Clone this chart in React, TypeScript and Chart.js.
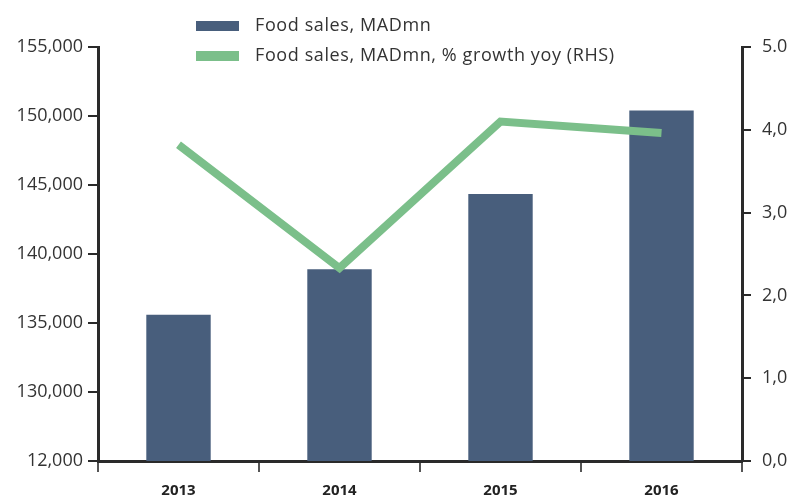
import React, { useEffect, useRef } from "react";
import { Chart, registerables } from "chart.js";

Chart.register(...registerables);

const categories = ["2013", "2014", "2015", "2016"];
const foodSales = [135600, 138900, 144350, 150400];
const growthYoy = [3.82, 2.33, 4.1, 3.96];
const leftTickLabels: Record<number, string> = {
  125000: "12,000",
  130000: "130,000",
  135000: "135,000",
  140000: "140,000",
  145000: "145,000",
  150000: "150,000",
  155000: "155,000",
};
const rightTickLabels: Record<number, string> = {
  0: "0,0",
  1: "1,0",
  2: "2,0",
  3: "3,0",
  4: "4,0",
  5: "5.0",
};
const legendLabels = ["Food sales, MADmn", "Food sales, MADmn, % growth yoy (RHS)"];

const BAR_COLOR = "#485e7c";
const LINE_COLOR = "#7bbf8a";
const FONT = "'Open Sans', sans-serif";
const TEXT = "#333333";

const legendPlugin = {
  id: "customLegend",
  afterDraw(chart: any) {
    const ctx = chart.ctx;
    ctx.save();
    const colors = [BAR_COLOR, LINE_COLOR];
    const ys = [26, 56];
    ctx.font = `18px ${FONT}`;
    try {
      ctx.letterSpacing = "0.6px";
    } catch (e) {}
    ctx.textBaseline = "middle";
    ctx.textAlign = "left";
    legendLabels.forEach((label, i) => {
      ctx.fillStyle = colors[i];
      ctx.fillRect(196, ys[i] - 5, 43, 10);
      ctx.fillStyle = TEXT;
      ctx.fillText(label, 255, ys[i]);
    });
    ctx.restore();
  },
};

export default function App() {
  const ref = useRef<HTMLCanvasElement | null>(null);
  useEffect(() => {
    document.body.style.margin = "0";
    if (!ref.current) return;
    const chart = new Chart(ref.current, {
      type: "bar",
      data: {
        labels: categories,
        datasets: [
          {
            type: "line",
            label: legendLabels[1],
            data: growthYoy,
            borderColor: LINE_COLOR,
            backgroundColor: LINE_COLOR,
            borderWidth: 8,
            pointRadius: 0,
            tension: 0,
            yAxisID: "y1",
            order: 0,
          } as any,
          {
            type: "bar",
            label: legendLabels[0],
            data: foodSales,
            backgroundColor: BAR_COLOR,
            categoryPercentage: 0.4,
            barPercentage: 1,
            yAxisID: "y",
            order: 1,
          },
        ],
      },
      plugins: [legendPlugin],
      options: {
        animation: false,
        responsive: false,
        maintainAspectRatio: false,
        layout: { padding: { top: 47, left: 0, right: 0, bottom: 0 } },
        plugins: { legend: { display: false }, tooltip: { enabled: false } },
        scales: {
          x: {
            grid: {
              display: true,
              drawOnChartArea: false,
              drawTicks: true,
              tickLength: 11,
              color: "#555555",
              lineWidth: 2,
            },
            border: { display: true, color: "#2a2a2a", width: 3 },
            ticks: {
              color: "#222222",
              font: { family: FONT, size: 15, weight: "bold" },
              padding: 10,
            },
            afterFit: (scale: any) => {
              scale.height = 39;
            },
          },
          y: {
            position: "left",
            min: 125000,
            max: 155000,
            grid: {
              display: true,
              drawOnChartArea: false,
              drawTicks: true,
              tickLength: 10,
              color: "#2a2a2a",
              lineWidth: 2,
            },
            border: { display: true, color: "#2a2a2a", width: 3 },
            ticks: {
              stepSize: 5000,
              color: TEXT,
              font: { family: FONT, size: 18 },
              padding: 5,
              callback: (v: any) => leftTickLabels[Number(v)] ?? "",
            },
            afterFit: (scale: any) => {
              scale.width = 98;
            },
          },
          y1: {
            position: "right",
            min: 0,
            max: 5,
            grid: {
              display: true,
              drawOnChartArea: false,
              drawTicks: true,
              tickLength: 9,
              color: "#2a2a2a",
              lineWidth: 2,
            },
            border: { display: true, color: "#2a2a2a", width: 3 },
            ticks: {
              stepSize: 1,
              color: TEXT,
              font: { family: FONT, size: 18 },
              padding: 11,
              callback: (v: any) => rightTickLabels[Number(v)] ?? "",
            },
            afterFit: (scale: any) => {
              scale.width = 47;
            },
          },
        },
      },
    });
    return () => chart.destroy();
  }, []);
  return (
    <div style={{ width: 789, height: 500 }}>
      <canvas ref={ref} width={789} height={500} style={{ width: 789, height: 500 }} />
    </div>
  );
}
